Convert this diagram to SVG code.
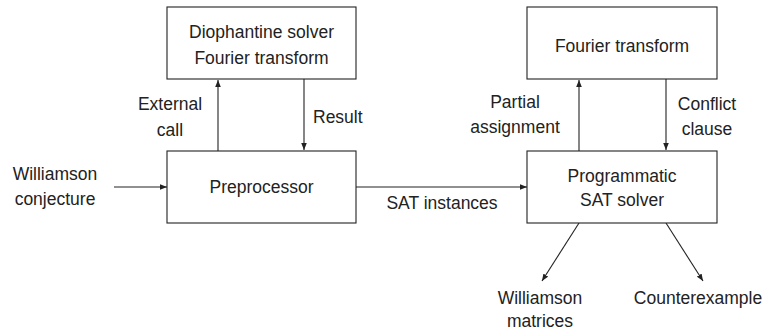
<svg xmlns="http://www.w3.org/2000/svg" width="777" height="332" viewBox="0 0 777 332">
<style>
.box{fill:#fff;stroke:#222;stroke-width:1.1}
text{font-family:"Liberation Sans","DejaVu Sans",sans-serif;font-size:17.5px;fill:#222}
.m{text-anchor:middle}
.c{stroke:#222;stroke-width:1.1;fill:none;marker-end:url(#ah)}
</style>
<defs>
<marker id="ah" viewBox="0 0 10 10" refX="10" refY="5" markerWidth="7" markerHeight="7" markerUnits="userSpaceOnUse" orient="auto">
<path d="M0,1 L10,5 L0,9 Z" fill="#222"/>
</marker>
</defs>
<rect width="777" height="332" fill="#fff"/>
<g id="connectors">
<line class="c" x1="114" y1="187" x2="167" y2="187"/>
<line class="c" x1="218" y1="151" x2="218" y2="80"/>
<line class="c" x1="304" y1="79" x2="304" y2="150"/>
<line class="c" x1="356" y1="187" x2="527" y2="187"/>
<line class="c" x1="579" y1="151" x2="579" y2="80"/>
<line class="c" x1="666" y1="79" x2="666" y2="150"/>
<line class="c" x1="579" y1="223" x2="542" y2="281"/>
<line class="c" x1="666" y1="223" x2="703" y2="281"/>
<text class="m" x="170" y="110">External</text>
<text class="m" x="170" y="136">call</text>
<text x="313" y="123">Result</text>
<text class="m" x="442" y="209">SAT instances</text>
<text class="m" x="515" y="108">Partial</text>
<text class="m" x="515" y="133">assignment</text>
<text class="m" x="707" y="110">Conflict</text>
<text class="m" x="707" y="135">clause</text>
</g>
<g id="input">
<text class="m" x="55" y="180">Williamson</text>
<text class="m" x="55" y="205">conjecture</text>
</g>
<g id="diophantine">
<rect class="box" x="167" y="7" width="189" height="72"/>
<text class="m" x="261.5" y="38">Diophantine solver</text>
<text class="m" x="261.5" y="64">Fourier transform</text>
</g>
<g id="preprocessor">
<rect class="box" x="167" y="151" width="189" height="72"/>
<text class="m" x="261.5" y="193">Preprocessor</text>
</g>
<g id="fourier">
<rect class="box" x="527" y="7" width="190" height="72"/>
<text class="m" x="622" y="52">Fourier transform</text>
</g>
<g id="satsolver">
<rect class="box" x="527" y="151" width="190" height="72"/>
<text class="m" x="622" y="182">Programmatic</text>
<text class="m" x="622" y="206">SAT solver</text>
</g>
<g id="matrices">
<text class="m" x="540" y="304">Williamson</text>
<text class="m" x="540" y="327">matrices</text>
</g>
<g id="counterexample">
<text class="m" x="698" y="304">Counterexample</text>
</g>
</svg>
